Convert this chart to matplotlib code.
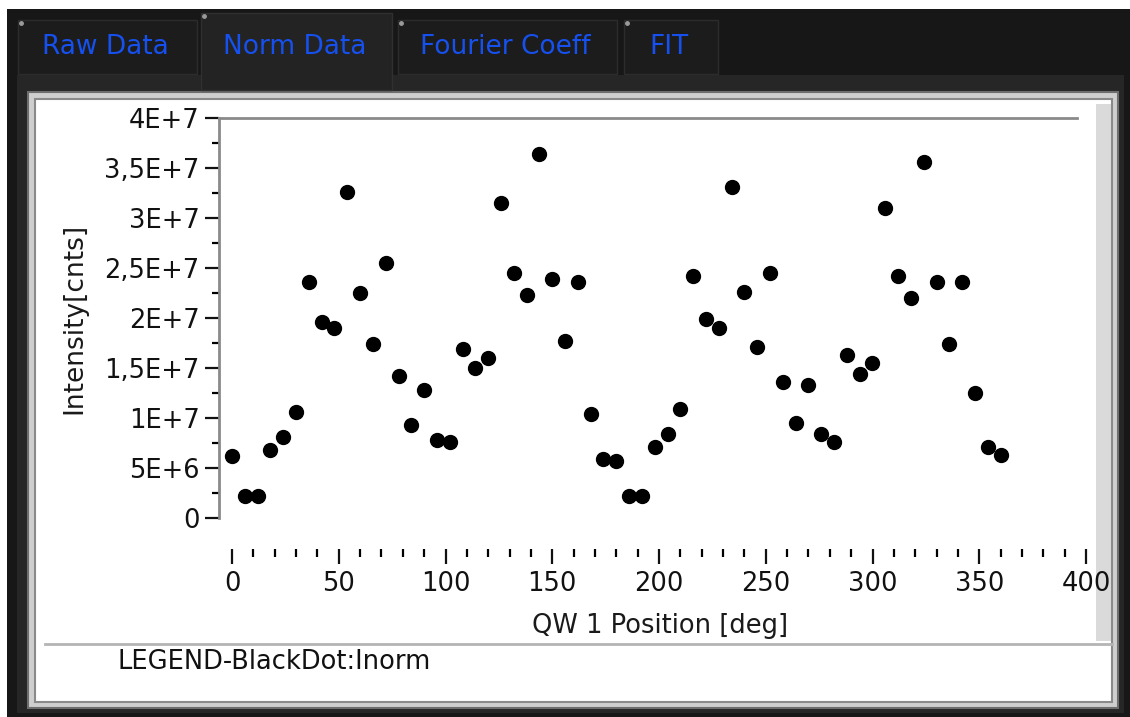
import numpy as np
import matplotlib.pyplot as plt
from matplotlib.patches import Rectangle

# LabVIEW style panel: "Norm Data" tab of a polarimeter readout

W, H = 1130, 717

tab_names = ['Raw Data', 'Norm Data', 'Fourier Coeff', 'FIT']
active_tab = 'Norm Data'

# QW 1 position [deg]
angles = [0, 6, 12, 18, 24, 30, 36, 42, 48, 54, 60, 66, 72, 78, 84, 90,
          96, 102, 108, 114, 120, 126, 132, 138, 144, 150, 156, 162, 168,
          174, 180, 186, 192, 198, 204, 210, 216, 222, 228, 234, 240, 246,
          252, 258, 264, 270, 276, 282, 288, 294, 300, 306, 312, 318, 324,
          330, 336, 342, 348, 354, 360]

# normalised intensity [cnts]
inorm = [6.25e6, 2.17e6, 2.17e6, 6.8e6, 8.15e6, 1.06e7, 2.36e7, 1.96e7,
         1.90e7, 3.26e7, 2.25e7, 1.74e7, 2.55e7, 1.42e7, 9.3e6, 1.28e7,
         7.85e6, 7.6e6, 1.69e7, 1.50e7, 1.60e7, 3.15e7, 2.45e7, 2.23e7,
         3.64e7, 2.39e7, 1.77e7, 2.36e7, 1.04e7, 5.95e6, 5.7e6, 2.17e6,
         2.17e6, 7.1e6, 8.45e6, 1.09e7, 2.42e7, 1.99e7, 1.90e7, 3.31e7,
         2.26e7, 1.71e7, 2.45e7, 1.36e7, 9.5e6, 1.33e7, 8.45e6, 7.6e6,
         1.63e7, 1.44e7, 1.55e7, 3.10e7, 2.42e7, 2.20e7, 3.56e7, 2.36e7,
         1.74e7, 2.36e7, 1.25e7, 7.1e6, 6.3e6]

y_ticks = [0, 5e6, 1e7, 1.5e7, 2e7, 2.5e7, 3e7, 3.5e7, 4e7]
y_labels = ['0', '5E+6', '1E+7', '1,5E+7', '2E+7', '2,5E+7', '3E+7', '3,5E+7', '4E+7']
x_ticks = [0, 50, 100, 150, 200, 250, 300, 350, 400]


def box(x0, y0, x1, y1):
    # pixel box -> figure fraction rect
    return [x0 / W, 1 - y1 / H, (x1 - x0) / W, (y1 - y0) / H]


fig = plt.figure(figsize=(W / 100, H / 100), dpi=100)
fig.patch.set_facecolor('#171717')

bg = fig.add_axes([0, 0, 1, 1])
bg.set_xlim(0, W)
bg.set_ylim(H, 0)
bg.axis('off')

def rect(x0, y0, x1, y1, fc, ec='none', lw=0, z=1):
    bg.add_patch(Rectangle((x0, y0), x1 - x0, y1 - y0, facecolor=fc,
                           edgecolor=ec, linewidth=lw, zorder=z))

# white margin of the screenshot
rect(0, 0, W, 9, 'white', z=5)
rect(0, 0, 7, H, 'white', z=5)

# tab control frame
rect(17, 75, 1124, 713, '#262626')
rect(28, 92, 1118, 708, '#cfcfcf', '#6e6e6e', 1.5, z=2)
rect(35, 99, 1112, 702, 'white', '#8a8a8a', 1.5, z=3)
rect(1096, 104, 1111, 641, '#dadada', z=3)
bg.plot([45, 1112], [644, 644], color='#b4b4b4', lw=2, zorder=4)

# tabs
tab_x = [(18, 197), (201, 392), (398, 617), (624, 718)]
for name, (x0, x1) in zip(tab_names, tab_x):
    if name == active_tab:
        rect(x0, 13, x1, 90, '#232323', '#303030', 1, z=2)
        y0 = 13
    else:
        rect(x0, 20, x1, 74, '#1c1c1c', '#2c2c2c', 1, z=2)
        y0 = 20
    bg.plot([x0 + 3], [y0 + 3], 'o', ms=2.5, color='#9a9a9a', zorder=4)
    bg.text((x0 + x1) / 2 - 2, 47, name, color='#1650ee', fontsize=19,
            ha='center', va='center', zorder=4)

# axis titles and legend
bg.text(660, 626, 'QW 1 Position [deg]', fontsize=18.5, color='#1a1a1a',
        ha='center', va='center', zorder=6)
bg.text(74, 318, 'Intensity[cnts]', fontsize=19, color='#1a1a1a',
        rotation=90, ha='center', va='center', zorder=6)
bg.text(117, 662, 'LEGEND-BlackDot:Inorm', fontsize=18.5, color='#111111',
        ha='left', va='center', zorder=6)

# plot area
px_per_deg = (1086 - 232) / 400
ax = fig.add_axes(box(219, 118, 1077, 518))
ax.set_facecolor('none')
ax.plot(angles, inorm, 'o', color='black', ms=10, clip_on=False)
ax.set_xlim((219 - 232) / px_per_deg, (1077 - 232) / px_per_deg)
ax.set_ylim(0, 4e7)
ax.set_xticks([])
ax.set_yticks(y_ticks)
ax.set_yticklabels(y_labels)
ax.set_yticks(np.array(y_ticks[:-1]) + 2.5e6, minor=True)
ax.tick_params(axis='y', which='major', direction='out', length=10,
               width=1.6, pad=4, labelsize=18.5, colors='#111111')
ax.tick_params(axis='y', which='minor', direction='out', length=5, width=1.6)
for s in ['right', 'bottom']:
    ax.spines[s].set_visible(False)
for s in ['left', 'top']:
    ax.spines[s].set_color('#8a8a8a')
    ax.spines[s].set_linewidth(2)

# detached x scale below the plot
sx = fig.add_axes(box(232, 549, 1086, 549))
sx.set_facecolor('none')
sx.set_xlim(0, 400)
sx.set_yticks([])
sx.set_xticks(x_ticks)
sx.set_xticks(np.arange(0, 401, 10), minor=True)
sx.tick_params(axis='x', which='major', direction='out', length=11,
               width=1.6, pad=5, labelsize=18.5, colors='#111111')
sx.tick_params(axis='x', which='minor', direction='out', length=6, width=1.6)
for s in sx.spines.values():
    s.set_visible(False)

fig.savefig('out.png', dpi=100, facecolor=fig.get_facecolor())
